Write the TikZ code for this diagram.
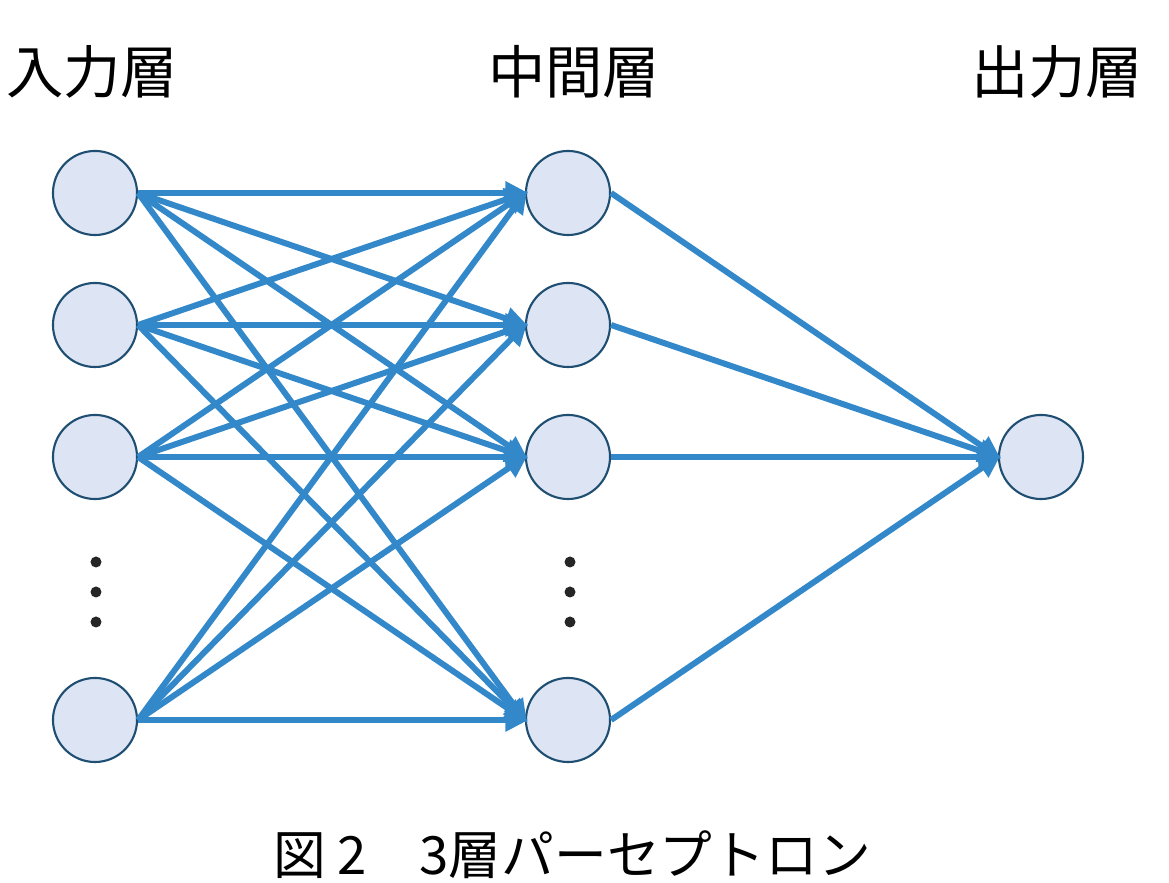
\documentclass[tikz,border=0pt]{standalone}
\usepackage{fontspec}
\newfontfamily\jpfont{Noto Sans CJK JP}
\usetikzlibrary{arrows.meta,positioning,calc}
\definecolor{LinkBlue}{HTML}{3388C9}
\definecolor{UnitFill}{HTML}{DDE4F3}
\definecolor{UnitLine}{HTML}{1E4E72}
\tikzset{unit/.style={circle,draw=UnitLine,line width=0.6pt,fill=UnitFill,minimum size=0.84cm,inner sep=0pt},link/.style={-{Triangle[length=0.23cm,width=0.22cm]},line width=1.7pt,LinkBlue,shorten >=-1pt},ttl/.style={font=\jpfont\fontsize{16.3pt}{19pt}\selectfont},vdot/.style={circle,fill=black!85,inner sep=0pt,minimum size=0.11cm}}

\begin{document}
\begin{tikzpicture}[x=0.01cm,y=-0.01cm]
\useasboundingbox (0,0) rectangle (1169,883);
% layer titles
\node[ttl] (tin) at (92,72) {入力層};
\node[ttl] (thid) at (574,72) {中間層};
\node[ttl] (tout) at (1057,72) {出力層};
% units
\foreach \i/\y in {1/193,2/325,3/457,5/720}{
  \node[unit] (in\i) at (95,\y) {};
  \node[unit] (hid\i) at (568,\y) {};
}
\node[unit] (out) at (1041,457) {};
\foreach \y [count=\k] in {562,592,622}{
  \node[vdot] (din\k) at (96,\y) {};
  \node[vdot] (dhid\k) at (570,\y) {};
}
% connections
\foreach \i in {1,2,3,5}{
  \foreach \j in {1,2,3,5}{ \draw[link] (in\i.east)--(hid\j.west); }
  \draw[link] (hid\i.east)--(out.west);
}
\node[font=\jpfont\fontsize{15pt}{18pt}\selectfont] (cap) at (572,855) {図 2　3層パーセプトロン};
\end{tikzpicture}
\end{document}
